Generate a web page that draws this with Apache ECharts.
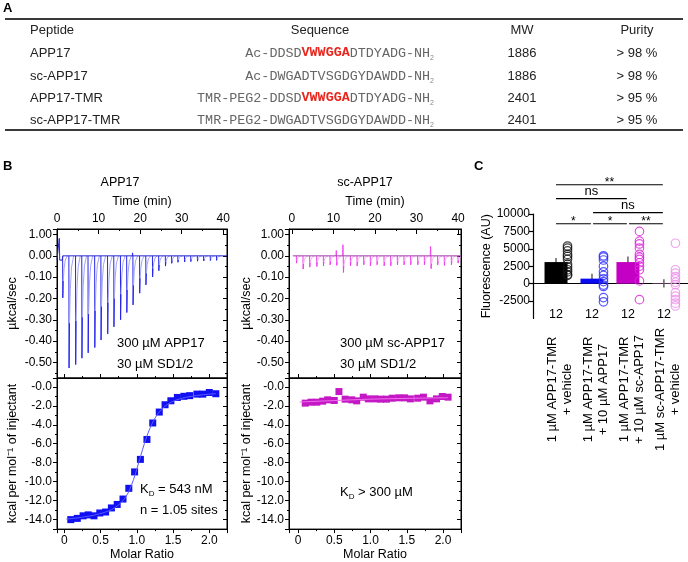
<!DOCTYPE html>
<html><head><meta charset="utf-8">
<script src="https://cdn.jsdelivr.net/npm/echarts@6/dist/echarts.min.js"></script>
<style>html,body{margin:0;padding:0;background:#fff}#c{width:688px;height:562px}</style>
</head><body><div id="c"></div>
<script>
// ---------- Panel A: peptide table ----------
const peptides = ['APP17', 'sc-APP17', 'APP17-TMR', 'sc-APP17-TMR'];
const seqPre = ['Ac-DDSD', 'Ac-DWGADTVSGDGYDAWDD', 'TMR-PEG2-DDSD', 'TMR-PEG2-DWGADTVSGDGYDAWDD'];
const seqMotif = ['VWWGGA', '', 'VWWGGA', ''];
const seqPost = ['DTDYADG', '', 'DTDYADG', ''];
const seqEnd = '-NH';
const mw = ['1886', '1886', '2401', '2401'];
const purity = ['> 98 %', '> 98 %', '> 95 %', '> 95 %'];
const tableHead = ['Peptide', 'Sequence', 'MW', 'Purity'];

// ---------- Panel B: ITC ----------
const app17Time = [1.4, 2.9, 4.5, 6.0, 7.5, 9.1, 10.6, 12.2, 13.7, 15.3, 16.8, 18.3, 19.9, 21.4, 23.0, 24.5, 26.1, 27.6, 29.1, 30.7, 32.2, 33.8, 35.3, 36.9, 38.4];
const app17Peak = [-0.197, -0.526, -0.51, -0.48, -0.455, -0.43, -0.395, -0.366, -0.333, -0.30, -0.266, -0.23, -0.175, -0.136, -0.099, -0.070, -0.048, -0.035, -0.030, -0.029, -0.027, -0.025, -0.024, -0.022, -0.021];
const app17Up = [0, 0, 0, 0, 0, 0, 0, 0, 0, 0, 0, 0.014, 0, 0, 0, 0, 0, 0, 0, 0, 0, 0, 0, 0, 0];
const app17BaseT = [0, 0.45, 0.55, 0.65, 1.25, 1.4, 40.9];
const app17BaseV = [-0.018, -0.018, 0.082, -0.02, -0.02, 0, 0];
const scTime = [1.1, 2.7, 4.3, 6.0, 7.6, 9.2, 10.8, 12.4, 14.1, 15.7, 17.3, 18.9, 20.5, 22.2, 23.8, 25.4, 27.0, 28.6, 30.3, 31.9, 33.5, 35.1, 36.7, 38.4, 40.0];
const scPeak = [-0.034, -0.062, -0.053, -0.05, -0.047, -0.042, -0.045, -0.078, -0.047, -0.047, -0.042, -0.047, -0.042, -0.047, -0.047, -0.042, -0.042, -0.042, -0.042, -0.042, -0.06, -0.042, -0.045, -0.042, -0.034];
const scUp = [0, 0, 0, 0, 0, 0, 0.025, 0.052, 0, 0, 0, 0, 0, 0, 0, 0, 0, 0, 0, 0, 0.044, 0, 0, 0, 0];
const scBaseT = [0.2, 40.6];
const scBaseV = [0, 0];
const app17Ratio = [0.09, 0.18, 0.26, 0.33, 0.41, 0.49, 0.57, 0.65, 0.73, 0.81, 0.89, 0.97, 1.05, 1.14, 1.22, 1.31, 1.39, 1.47, 1.56, 1.65, 1.73, 1.83, 1.91, 2.0, 2.09];
const app17Heat = [-14.0, -13.87, -13.6, -13.5, -13.6, -13.3, -13.2, -12.77, -12.4, -11.83, -10.7, -8.97, -7.65, -5.55, -3.81, -2.66, -1.89, -1.47, -1.12, -1.0, -0.93, -0.77, -0.77, -0.6, -0.73];
const app17FitX = [0.03, 0.2, 0.4, 0.55, 0.65, 0.75, 0.82, 0.88, 0.93, 0.98, 1.03, 1.08, 1.13, 1.18, 1.24, 1.3, 1.38, 1.48, 1.6, 1.75, 1.9, 2.09];
const app17FitY = [-13.95, -13.8, -13.55, -13.25, -12.95, -12.45, -11.9, -11.2, -10.3, -9.2, -7.9, -6.6, -5.4, -4.4, -3.45, -2.75, -2.1, -1.6, -1.25, -1.0, -0.85, -0.72];
const scRatio = [0.10, 0.18, 0.26, 0.34, 0.41, 0.50, 0.565, 0.65, 0.74, 0.81, 0.90, 0.97, 1.06, 1.14, 1.22, 1.30, 1.39, 1.47, 1.55, 1.65, 1.73, 1.82, 1.91, 1.99, 2.07];
const scHeat = [-1.72, -1.62, -1.62, -1.51, -1.37, -1.44, -0.5, -1.30, -1.37, -1.48, -1.09, -1.27, -1.27, -1.30, -1.30, -1.2, -1.16, -1.16, -1.27, -1.2, -1.09, -1.48, -1.27, -1.02, -1.09];
const scFitX = [0.02, 0.5, 1.0, 1.5, 2.07];
const scFitY = [-1.6, -1.45, -1.3, -1.22, -1.15];

// ---------- Panel C: fluorescence ----------
const groups = ['1 µM APP17-TMR\n+ vehicle', '1 µM APP17-TMR\n+ 10 µM APP17', '1 µM APP17-TMR\n+ 10 µM sc-APP17', '1 µM sc-APP17-TMR\n+ vehicle'];
const groupMean = [3100, 720, 3100, 50];
const groupSem = [600, 700, 800, 600];
const groupN = ['12', '12', '12', '12'];
const pts0 = [5400, 5100, 4700, 4200, 3900, 3500, 2800, 2400, 2000, 1700, 1300, 1200];
const pts1 = [4000, 3800, 3400, 2500, 1700, 1200, 700, 300, -200, -400, -2000, -2600];
const pts2 = [7500, 6100, 5700, 5100, 4200, 3800, 3500, 3000, 2500, 2000, 400, -2300];
const pts3 = [5800, 2000, 1500, 1000, 700, 200, -150, -1300, -1800, -2300, -2800, -3200];
const sigFrom = [0, 0, 1, 0, 1, 2];
const sigTo = [3, 2, 3, 1, 2, 3];
const sigLevel = [14200, 12200, 10200, 8600, 8600, 8600];
const sigText = ['**', 'ns', 'ns', '*', '*', '**'];

// ---------- styling ----------
const FONT = '"Liberation Sans", Arial, Helvetica, sans-serif';
const MONO = '"Liberation Mono", "Courier New", monospace';
const barColors = ['#000000', '#0a0af0', '#c400c4', '#e89ae8'];
const dotColors = ['#111111', '#2c2cff', '#dd22dd', '#ea90ea'];

const zip = (a, b, c) => a.map((v, i) => c ? [v, b[i], c[i]] : [v, b[i]]);

function txt(x, y, text, o) {
  o = o || {};
  return {
    type: 'text', x: x, y: y, silent: true, rotation: o.rotation || 0,
    style: Object.assign({
      text: text, fill: o.color || '#000', fontSize: o.size || 12, fontFamily: o.family || FONT,
      fontWeight: o.bold ? 'bold' : 'normal',
      align: o.align || 'left', verticalAlign: 'middle', textAlign: o.align || 'left', textVerticalAlign: 'middle'
    }, o.style || {})
  };
}

const graphics = [];
graphics.push(txt(3, 8, 'A', { bold: true, size: 13 }));
graphics.push(txt(3, 166, 'B', { bold: true, size: 13 }));
graphics.push(txt(474, 166, 'C', { bold: true, size: 13 }));
const tblLeft = 5, tblRight = 683, tblTop = 19, tblBottom = 130, headY = 30, rowY = [53, 76, 98, 120];
const colX = [30, 320, 522, 637], seqRight = 434;
graphics.push({ type: 'line', silent: true, shape: { x1: tblLeft, y1: tblTop, x2: tblRight, y2: tblTop }, style: { stroke: '#3a3a3a', lineWidth: 2 } });
graphics.push({ type: 'line', silent: true, shape: { x1: tblLeft, y1: tblBottom, x2: tblRight, y2: tblBottom }, style: { stroke: '#3a3a3a', lineWidth: 2 } });
graphics.push(txt(colX[0], headY, tableHead[0], { size: 13, color: '#222' }));
graphics.push(txt(colX[1], headY, tableHead[1], { size: 13, color: '#222', align: 'center' }));
graphics.push(txt(colX[2], headY, tableHead[2], { size: 13, color: '#222', align: 'center' }));
graphics.push(txt(colX[3], headY, tableHead[3], { size: 13, color: '#222', align: 'center' }));
peptides.forEach((p, i) => {
  graphics.push(txt(colX[0], rowY[i], p, { size: 13, color: '#222' }));
  let s = '{s|' + seqPre[i] + '}';
  if (seqMotif[i]) s += '{r|' + seqMotif[i] + '}';
  if (seqPost[i]) s += '{s|' + seqPost[i] + '}';
  s += '{s|' + seqEnd + '}{sub|2}';
  graphics.push(txt(seqRight, rowY[i], s, {
    align: 'right', family: MONO, size: 13.4, color: '#666', style: {
      rich: {
        s: { fontFamily: MONO, fontSize: 13.4, fill: '#666', lineHeight: 18 },
        r: { fontFamily: MONO, fontSize: 13.4, fill: '#e8261e', fontWeight: 'bold', lineHeight: 18 },
        sub: { fontFamily: FONT, fontSize: 7, fill: '#888', verticalAlign: 'bottom', lineHeight: 18 }
      }
    }
  }));
  graphics.push(txt(colX[2], rowY[i], mw[i], { size: 13, color: '#222', align: 'center' }));
  graphics.push(txt(colX[3], rowY[i], purity[i], { size: 13, color: '#222', align: 'center' }));
});
const kdRich = {
  a: { fontFamily: FONT, fontSize: 13, fill: '#000', lineHeight: 17 },
  s: { fontFamily: FONT, fontSize: 8, fill: '#000', verticalAlign: 'bottom', lineHeight: 17 }
};
graphics.push(txt(120, 183, 'APP17', { size: 12.5, align: 'center' }));
graphics.push(txt(365, 183, 'sc-APP17', { size: 12.5, align: 'center' }));
graphics.push(txt(117, 343, '300 µM APP17', { size: 13 }));
graphics.push(txt(117, 364, '30 µM SD1/2', { size: 13 }));
graphics.push(txt(340, 343, '300 µM sc-APP17', { size: 13 }));
graphics.push(txt(340, 364, '30 µM SD1/2', { size: 13 }));
graphics.push(txt(140, 489, '{a|K}{s|D}{a| = 543 nM}', { size: 13, style: { rich: kdRich } }));
graphics.push(txt(140, 510, 'n = 1.05 sites', { size: 13 }));
graphics.push(txt(340, 492, '{a|K}{s|D}{a| > 300 µM}', { size: 13, style: { rich: kdRich } }));

// ---------- axes helpers ----------
const black = { color: '#000', width: 1 };
const lab = { color: '#000', fontSize: 12, fontFamily: FONT };
const nameStyle = { color: '#000', fontSize: 12.5, fontFamily: FONT };
function ax(o) {
  const a = {
    type: 'value', axisLine: { show: true, onZero: false, lineStyle: black },
    axisTick: { show: true, inside: !!o.inside, length: o.tickLen || 4, lineStyle: black },
    minorTick: { show: !!o.minor, splitNumber: 2, length: 2, lineStyle: black },
    splitLine: { show: false },
    axisLabel: o.labels ? Object.assign({ show: true, margin: o.margin || 5 }, lab, o.labels) : { show: false }
  };
  delete o.inside; delete o.minor; delete o.labels; delete o.margin; delete o.tickLen;
  return Object.assign(a, o);
}
const upFmt = v => Math.abs(v - 0.1) < 1e-6 ? '1.00' : (Math.abs(v) < 1e-9 ? '0.00' : v.toFixed(2));
const lowFmt = v => Math.abs(v) < 1e-9 ? '-0.0' : v.toFixed(1);
const ratioFmt = v => Math.abs(v) < 1e-9 ? '0' : v.toFixed(1);
const timeFmt = v => (Math.abs(v % 10) < 1e-9 && v >= 0) ? String(Math.round(v)) : '';

const G = [
  { left: 57, top: 229, width: 170, height: 149 },
  { left: 57, top: 378, width: 170, height: 152 },
  { left: 289, top: 229, width: 172, height: 149 },
  { left: 289, top: 378, width: 172, height: 152 },
  { left: 533, top: 214, width: 155, height: 104.5 },
  { left: 542, top: 214, width: 144, height: 104.5 }
].map((g, i) => Object.assign({ show: i < 4, borderColor: '#000', borderWidth: 1, containLabel: false }, g));

const upY = { min: -0.573, max: 0.126, splitNumber: 7 };
const lowY = { min: -15, max: 0.93, splitNumber: 8 };

const xAxes = [
  ax(Object.assign({ gridIndex: 0, position: 'top', min: 0, max: 40.9, interval: 10, inside: true, minor: true, tickLen: 5,
    labels: { formatter: timeFmt, margin: 4 }, name: 'Time (min)', nameLocation: 'middle', nameGap: 21, nameTextStyle: nameStyle })),
  ax({ gridIndex: 1, position: 'bottom', min: -0.1, max: 2.244, splitNumber: 5, minor: true,
    labels: { formatter: ratioFmt, showMinLabel: false, showMaxLabel: false, margin: 6 }, name: 'Molar Ratio', nameLocation: 'middle', nameGap: 18, nameTextStyle: nameStyle }),
  ax({ gridIndex: 1, position: 'top', min: -0.1, max: 2.244, splitNumber: 5, minor: true }),
  ax({ gridIndex: 2, position: 'top', min: -0.7, max: 40.7, splitNumber: 4, inside: true, minor: true, tickLen: 5,
    labels: { formatter: timeFmt, showMinLabel: false, showMaxLabel: false, margin: 4 }, name: 'Time (min)', nameLocation: 'middle', nameGap: 21, nameTextStyle: nameStyle }),
  ax({ gridIndex: 3, position: 'bottom', min: -0.124, max: 2.248, splitNumber: 5, minor: true,
    labels: { formatter: ratioFmt, showMinLabel: false, showMaxLabel: false, margin: 6 }, name: 'Molar Ratio', nameLocation: 'middle', nameGap: 18, nameTextStyle: nameStyle }),
  ax({ gridIndex: 3, position: 'top', min: -0.124, max: 2.248, splitNumber: 5, minor: true }),
  { type: 'value', gridIndex: 4, min: -0.64, max: 3.67, axisLine: { show: true, onZero: true, lineStyle: { color: '#000', width: 1.2 } },
    axisTick: { show: false }, axisLabel: { show: false }, splitLine: { show: false } },
  { type: 'category', gridIndex: 5, data: groups, position: 'bottom', axisLine: { show: false }, axisTick: { show: false },
    splitLine: { show: false },
    axisLabel: { interval: 0, rotate: 90, align: 'center', verticalAlign: 'middle', margin: 71, fontSize: 13, lineHeight: 15, fontFamily: FONT, color: '#000' } }
];

const yAxes = [
  ax(Object.assign({ gridIndex: 0, position: 'left', minor: true, labels: { formatter: upFmt, showMinLabel: false, showMaxLabel: false, margin: 5 },
    name: 'µkcal/sec', nameLocation: 'middle', nameGap: 38, nameTextStyle: nameStyle }, upY)),
  ax(Object.assign({ gridIndex: 0, position: 'right', inside: true, minor: true }, upY)),
  ax(Object.assign({ gridIndex: 1, position: 'left', minor: true, labels: { formatter: lowFmt, showMinLabel: false, showMaxLabel: false, margin: 5 },
    name: 'kcal per mol⁻¹ of injectant', nameLocation: 'middle', nameGap: 38, nameTextStyle: nameStyle }, lowY)),
  ax(Object.assign({ gridIndex: 1, position: 'right', inside: true, minor: true }, lowY)),
  ax(Object.assign({ gridIndex: 2, position: 'left', minor: true, labels: { formatter: upFmt, showMinLabel: false, showMaxLabel: false, margin: 5 },
    name: 'µkcal/sec', nameLocation: 'middle', nameGap: 36, nameTextStyle: nameStyle }, upY)),
  ax(Object.assign({ gridIndex: 2, position: 'right', inside: true, minor: true }, upY)),
  ax(Object.assign({ gridIndex: 3, position: 'left', minor: true, labels: { formatter: lowFmt, showMinLabel: false, showMaxLabel: false, margin: 5 },
    name: 'kcal per mol⁻¹ of injectant', nameLocation: 'middle', nameGap: 36, nameTextStyle: nameStyle }, lowY)),
  ax(Object.assign({ gridIndex: 3, position: 'right', inside: true, minor: true }, lowY)),
  { type: 'value', gridIndex: 4, min: -5000, max: 10000, interval: 2500, position: 'left',
    axisLine: { show: true, onZero: false, lineStyle: { color: '#000', width: 1.2 } },
    axisTick: { show: true, length: 4, lineStyle: { color: '#000', width: 1.2 } }, splitLine: { show: false },
    axisLabel: Object.assign({ formatter: v => String(v), showMinLabel: false, margin: 3 }, lab),
    name: 'Fluorescence (AU)', nameLocation: 'middle', nameGap: 40, nameTextStyle: nameStyle },
  { type: 'value', gridIndex: 5, show: false, min: 0, max: 1 }
];

function spikeSeries(xi, yi, data, dark, light) {
  return {
    type: 'custom', xAxisIndex: xi, yAxisIndex: yi, clip: true, silent: true, data: data,
    encode: { x: 0, y: 1 },
    renderItem: function (params, api) {
      const t = api.value(0), d = api.value(1), u = api.value(2);
      const c = arr => arr.map(p => api.coord(p));
      const ch = [];
      if (u > 0) ch.push({ type: 'polyline', shape: { points: c([[t - 0.2, 0], [t - 0.12, u], [t - 0.04, 0]]) }, style: { stroke: dark, lineWidth: 0.9, fill: null } });
      ch.push({ type: 'polyline', shape: { points: c([[t - 0.04, 0], [t, d], [t + 0.1, d * 0.6]]) }, style: { stroke: dark, lineWidth: 1, fill: null } });
      ch.push({ type: 'polyline', shape: { points: c([[t + 0.1, d * 0.6], [t + 0.3, d * 0.3], [t + 0.6, d * 0.1], [t + 1.1, 0]]) }, style: { stroke: light, lineWidth: 1, fill: null } });
      return { type: 'group', children: ch };
    }
  };
}

const ptsAll = [pts0, pts1, pts2, pts3];
const dotData = [];
ptsAll.forEach((arr, gi) => arr.forEach(v => dotData.push({ value: [gi + 0.32, v], itemStyle: { borderColor: dotColors[gi] } })));

const series = [
  { type: 'line', xAxisIndex: 0, yAxisIndex: 0, data: zip(app17BaseT, app17BaseV), symbol: 'none', lineStyle: { color: '#2a2ad0', width: 1 }, silent: true },
  spikeSeries(0, 0, zip(app17Time, app17Peak, app17Up), '#2424ee', '#a4a4f8'),
  { type: 'line', xAxisIndex: 1, yAxisIndex: 2, data: zip(app17FitX, app17FitY), symbol: 'none', smooth: 0.3, lineStyle: { color: '#5a5aff', width: 1 }, silent: true },
  { type: 'scatter', xAxisIndex: 1, yAxisIndex: 2, data: zip(app17Ratio, app17Heat), symbol: 'rect', symbolSize: 7, itemStyle: { color: '#1010f2', opacity: 1 }, silent: true },
  { type: 'line', xAxisIndex: 3, yAxisIndex: 4, data: zip(scBaseT, scBaseV), symbol: 'none', lineStyle: { color: '#a040a8', width: 1 }, silent: true },
  spikeSeries(3, 4, zip(scTime, scPeak, scUp), '#f03cf0', '#f8acf8'),
  { type: 'line', xAxisIndex: 4, yAxisIndex: 6, data: zip(scFitX, scFitY), symbol: 'none', smooth: 0.3, lineStyle: { color: '#f070f0', width: 1 }, silent: true },
  { type: 'scatter', xAxisIndex: 4, yAxisIndex: 6, data: zip(scRatio, scHeat), symbol: 'rect', symbolSize: 7, itemStyle: { color: '#c418c4', opacity: 1 }, silent: true },
  { type: 'bar', xAxisIndex: 6, yAxisIndex: 8, barWidth: 23, silent: true,
    data: groupMean.map((m, i) => ({ value: [i, m], itemStyle: { color: barColors[i] } })) },
  { type: 'custom', xAxisIndex: 6, yAxisIndex: 8, silent: true, clip: false,
    data: groupMean.map((m, i) => [i, m, groupSem[i]]), encode: { x: 0, y: 1 },
    renderItem: function (params, api) {
      const i = api.value(0), m = api.value(1), s = api.value(2);
      const a = api.coord([i, m - s]), b = api.coord([i, m + s]);
      return { type: 'line', shape: { x1: a[0], y1: a[1], x2: b[0], y2: b[1] }, style: { stroke: '#3a3a3a', lineWidth: 1.2 } };
    } },
  { type: 'scatter', xAxisIndex: 6, yAxisIndex: 8, data: dotData, symbol: 'circle', symbolSize: 8.5, silent: true,
    itemStyle: { color: 'rgba(255,255,255,0)', borderWidth: 1.2 } },
  { type: 'custom', xAxisIndex: 6, yAxisIndex: 8, silent: true, clip: false,
    data: groupN.map((n, i) => [i, -4400]), encode: { x: 0, y: 1 },
    renderItem: function (params, api) {
      const p = api.coord([api.value(0), api.value(1)]);
      return { type: 'text', x: p[0], y: p[1], style: { text: groupN[params.dataIndex], fill: '#000', fontSize: 12.5, fontFamily: FONT, align: 'center', verticalAlign: 'middle' } };
    } },
  { type: 'custom', xAxisIndex: 6, yAxisIndex: 8, silent: true, clip: false,
    data: sigFrom.map((f, i) => [f, sigTo[i], sigLevel[i]]), encode: { x: [0, 1], y: 2 },
    renderItem: function (params, api) {
      const f = api.value(0), t = api.value(1), lv = api.value(2);
      const a = api.coord([f + (f > 0 ? 0.03 : 0), lv]), b = api.coord([t - 0.03, lv]);
      const label = sigText[params.dataIndex];
      const isStar = label.indexOf('*') >= 0;
      return { type: 'group', children: [
        { type: 'line', shape: { x1: a[0], y1: a[1], x2: b[0], y2: b[1] }, style: { stroke: '#000', lineWidth: 1.2 } },
        { type: 'text', x: (a[0] + b[0]) / 2, y: a[1] + (isStar ? 4 : -1), style: { text: label, fill: '#000', fontSize: isStar ? 12 : 13, fontFamily: FONT, align: 'center', verticalAlign: 'bottom' } }
      ] };
    } }
];

const chart = echarts.init(document.getElementById('c'), null, { renderer: 'canvas' });
chart.setOption({
  animation: false,
  backgroundColor: '#fff',
  grid: G,
  xAxis: xAxes,
  yAxis: yAxes,
  series: series,
  graphic: { elements: graphics }
});
</script></body></html>
